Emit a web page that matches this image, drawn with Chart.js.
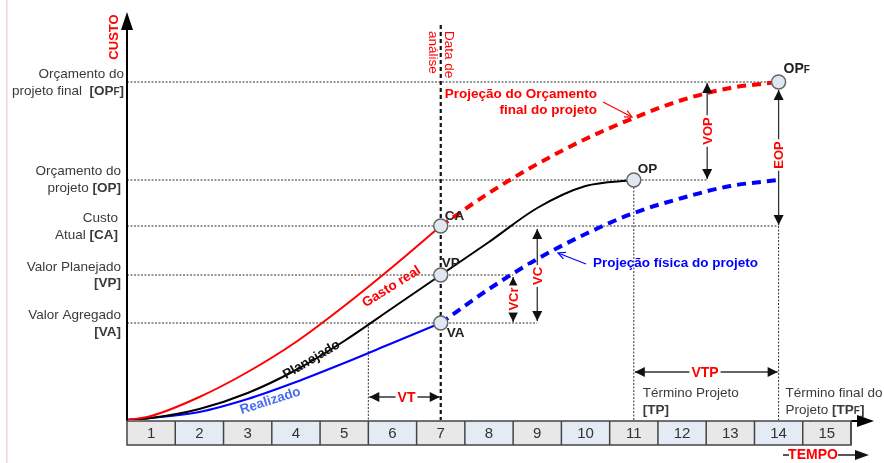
<!DOCTYPE html>
<html><head><meta charset="utf-8">
<script src="https://cdn.jsdelivr.net/npm/chart.js@4.4.1/dist/chart.umd.min.js"></script>
<style>html,body{margin:0;padding:0;background:#fff;}#wrap{width:884px;height:463px;position:relative;overflow:hidden}</style>
</head><body><div id="wrap"><canvas id="c" width="884" height="463"></canvas></div>
<script>
// ---- data (time periods / cost units) ----
const timeTicks = [1,2,3,4,5,6,7,8,9,10,11,12,13,14,15];
const plannedT    = [0.5,1,2,3,4,5,6,7,8,9,10,11];
const plannedCost = [0,2,11,27,50,79,112,145,178,212,234,240];
const actualT     = [0.5,1,2,3,4,5,6,7];
const actualCost  = [0,4,23,48,78,114,153,194];
const earnedT     = [0.5,1,2,3,4,5,6,7];
const earnedValue = [0,2,8,21,38,57,77,97];
const budgetProjT    = [7,8,9,10,11,12,13,14];
const budgetProjCost = [194,227,256,281,302,320,332,338];
const physProjT      = [7,8,9,10,11,12,13,14];
const physProjCost   = [97,131,161,186,207,222,234,240];
const markerNames = ['CA','VP','VA','OP','OPF'];
const markerT     = [7,7,7,11,14];
const markerCost  = [194,145,97,240,338];
const analysisT = 7, trackStartT = 5.5, endT = 11, finalEndT = 14;
const levelOPF = 338, levelOP = 240, levelCA = 194, levelVP = 145, levelVA = 97;

const pts = (xs, ys) => xs.map((v, i) => ({x: v, y: ys[i]}));
const F = '"Liberation Sans", Arial, sans-serif';

function rich(ctx, parts, x, y, align, color) {
  let w = 0;
  parts.forEach(p => { ctx.font = p.f; w += ctx.measureText(p.t).width; });
  let cx = align === 'right' ? x - w : (align === 'center' ? x - w / 2 : x);
  ctx.textAlign = 'left'; ctx.textBaseline = 'middle';
  parts.forEach(p => {
    ctx.font = p.f; ctx.fillStyle = p.c || color;
    ctx.fillText(p.t, cx, y + (p.dy || 0));
    cx += ctx.measureText(p.t).width;
  });
}
function dotted(ctx, x1, y1, x2, y2, dash, w, col) {
  ctx.save(); ctx.strokeStyle = col || '#333'; ctx.lineWidth = w || 1;
  ctx.setLineDash(dash || [2, 1.5]);
  ctx.beginPath(); ctx.moveTo(x1, y1); ctx.lineTo(x2, y2); ctx.stroke(); ctx.restore();
}
function head(ctx, x, y, ang, len, hw) {
  ctx.save(); ctx.translate(x, y); ctx.rotate(ang);
  ctx.beginPath(); ctx.moveTo(0, 0); ctx.lineTo(-len, -hw); ctx.lineTo(-len, hw); ctx.closePath();
  ctx.fill(); ctx.restore();
}
function dblArrow(ctx, x1, y1, x2, y2) {
  ctx.save(); ctx.strokeStyle = '#333'; ctx.fillStyle = '#111'; ctx.lineWidth = 1.3;
  ctx.beginPath(); ctx.moveTo(x1, y1); ctx.lineTo(x2, y2); ctx.stroke();
  const a = Math.atan2(y2 - y1, x2 - x1);
  head(ctx, x2, y2, a, 10, 5); head(ctx, x1, y1, a + Math.PI, 10, 5);
  ctx.restore();
}
function label(ctx, text, x, y, rot, font, color, bg) {
  ctx.save(); ctx.translate(x, y); ctx.rotate(rot); ctx.font = font;
  ctx.textAlign = 'center'; ctx.textBaseline = 'middle';
  if (bg) { const w = ctx.measureText(text).width; ctx.fillStyle = '#fff'; ctx.fillRect(-w / 2 - 2, -8, w + 4, 16); }
  ctx.fillStyle = color; ctx.fillText(text, 0, 1); ctx.restore();
}
function pointer(ctx, x1, y1, x2, y2, col) {
  ctx.save(); ctx.strokeStyle = col; ctx.lineWidth = 1.2;
  ctx.beginPath(); ctx.moveTo(x1, y1); ctx.lineTo(x2, y2); ctx.stroke();
  const a = Math.atan2(y2 - y1, x2 - x1);
  ctx.beginPath();
  ctx.moveTo(x2 - 8 * Math.cos(a - 0.45), y2 - 8 * Math.sin(a - 0.45));
  ctx.lineTo(x2, y2);
  ctx.lineTo(x2 - 8 * Math.cos(a + 0.45), y2 - 8 * Math.sin(a + 0.45));
  ctx.stroke(); ctx.restore();
}

const diagram = {
  id: 'diagram',
  beforeDatasetsDraw(chart) {
    const {ctx, scales: {x, y}} = chart;
    const X = v => x.getPixelForValue(v), Y = v => y.getPixelForValue(v);
    const x0 = X(0.5), y0 = Y(0);
    ctx.save();
    ctx.fillStyle = '#f2d5d9'; ctx.fillRect(6, 0, 1.5, 463);
    dotted(ctx, x0, Y(levelOPF), X(finalEndT), Y(levelOPF));
    dotted(ctx, x0, Y(levelOP), X(12.52), Y(levelOP));
    dotted(ctx, x0, Y(levelCA), X(finalEndT), Y(levelCA));
    dotted(ctx, x0, Y(levelVP), X(8.5), Y(levelVP));
    dotted(ctx, x0, Y(levelVA), X(9), Y(levelVA));
    dotted(ctx, X(trackStartT), Y(levelVA), X(trackStartT), y0);
    dotted(ctx, X(endT), Y(levelOP), X(endT), y0);
    dotted(ctx, X(finalEndT), Y(levelCA), X(finalEndT), y0);
    dotted(ctx, X(analysisT), Y(395), X(analysisT), y0, [4, 3], 2.2, '#111');
    ctx.restore();
  },
  afterDatasetsDraw(chart) {
    const {ctx, scales: {x, y}} = chart;
    const X = v => x.getPixelForValue(v), Y = v => y.getPixelForValue(v);
    const x0 = X(0.5), y0 = Y(0);
    ctx.save();
    ctx.fillStyle = '#000'; ctx.strokeStyle = '#000'; ctx.lineWidth = 2;
    ctx.beginPath(); ctx.moveTo(x0, y0 + 1); ctx.lineTo(x0, 26); ctx.stroke();
    head(ctx, x0, 12, -Math.PI / 2, 18, 6);
    ctx.beginPath(); ctx.moveTo(X(15.5), y0 + 1); ctx.lineTo(860, y0 + 1); ctx.stroke();
    head(ctx, 874, y0 + 1, 0, 17, 6);

    dblArrow(ctx, X(12.52), Y(levelOPF) + 1, X(12.52), Y(levelOP) - 1);
    label(ctx, 'VOP', X(12.52), 131, -Math.PI / 2, 'bold 13px ' + F, '#f00', true);
    dblArrow(ctx, X(finalEndT), Y(levelOPF) + 8, X(finalEndT), Y(levelCA) - 1);
    label(ctx, 'EOP', X(finalEndT), 155, -Math.PI / 2, 'bold 13px ' + F, '#f00', true);
    dblArrow(ctx, X(9), Y(levelCA) + 3, X(9), Y(levelVA) - 2);
    label(ctx, 'VC', X(9), 276, -Math.PI / 2, 'bold 13px ' + F, '#f00', true);
    dblArrow(ctx, X(8.5), Y(levelVP) + 2, X(8.5), Y(levelVA) - 1);
    label(ctx, 'VCr', X(8.5), 299, -Math.PI / 2, 'bold 13px ' + F, '#f00', true);
    dblArrow(ctx, X(trackStartT) + 1, Y(23), X(analysisT) - 1, Y(23));
    label(ctx, 'VT', (X(trackStartT) + X(analysisT)) / 2 + 2, Y(23), 0, 'bold 14px ' + F, '#f00', true);
    dblArrow(ctx, X(endT) + 1, Y(48), X(finalEndT) - 1, Y(48));
    label(ctx, 'VTP', 705, Y(48), 0, 'bold 14px ' + F, '#f00', true);

    const B = 'bold 13.5px ' + F;
    rich(ctx, [{t: 'CA', f: B}], X(7) + 4, Y(levelCA) - 10, 'left', '#222');
    rich(ctx, [{t: 'VP', f: B}], X(7) + 1, Y(levelVP) - 12, 'left', '#222');
    rich(ctx, [{t: 'VA', f: B}], X(7) + 6, Y(levelVA) + 10, 'left', '#222');
    rich(ctx, [{t: 'OP', f: B}], X(endT) + 4, Y(levelOP) - 11, 'left', '#222');
    rich(ctx, [{t: 'OP', f: 'bold 14px ' + F}, {t: 'F', f: 'bold 10px ' + F, dy: 1}], X(finalEndT) + 5, Y(levelOPF) - 13, 'left', '#222');

    const N = '13.5px ' + F, NB = 'bold 13.5px ' + F, SB = 'bold 10px ' + F, G = '#3a3a3a';
    const lx = 121;
    rich(ctx, [{t: 'Orçamento do', f: N}], 124, Y(levelOPF) - 8, 'right', G);
    rich(ctx, [{t: 'projeto final  ', f: N}, {t: '[OP', f: NB}, {t: 'F', f: SB, dy: 1}, {t: ']', f: NB}], 124, Y(levelOPF) + 9, 'right', G);
    rich(ctx, [{t: 'Orçamento do', f: N}], lx, Y(levelOP) - 9, 'right', G);
    rich(ctx, [{t: 'projeto ', f: N}, {t: '[OP]', f: NB}], lx, Y(levelOP) + 8, 'right', G);
    rich(ctx, [{t: 'Custo', f: N}], lx - 3, Y(levelCA) - 8, 'right', G);
    rich(ctx, [{t: 'Atual ', f: N}, {t: '[CA]', f: NB}], lx - 3, Y(levelCA) + 9, 'right', G);
    rich(ctx, [{t: 'Valor Planejado', f: N}], lx, Y(levelVP) - 8, 'right', G);
    rich(ctx, [{t: '[VP]', f: NB}], lx, Y(levelVP) + 8, 'right', G);
    rich(ctx, [{t: 'Valor Agregado', f: N}], lx, Y(levelVA) - 8, 'right', G);
    rich(ctx, [{t: '[VA]', f: NB}], lx, Y(levelVA) + 9, 'right', G);

    rich(ctx, [{t: 'Término Projeto', f: N}], X(endT) + 9, 393, 'left', G);
    rich(ctx, [{t: '[TP]', f: NB}], X(endT) + 9, 410, 'left', G);
    rich(ctx, [{t: 'Término final do', f: N}], X(finalEndT) + 7, 393, 'left', G);
    rich(ctx, [{t: 'Projeto ', f: N}, {t: '[TP', f: NB}, {t: 'F', f: SB, dy: 1}, {t: ']', f: NB}], X(finalEndT) + 7, 410, 'left', G);

    label(ctx, 'CUSTO', 113, 37, -Math.PI / 2, 'bold 13px ' + F, '#f00', false);
    ctx.save(); ctx.font = '13.5px ' + F; ctx.fillStyle = '#f00'; ctx.textBaseline = 'middle'; ctx.textAlign = 'left';
    ctx.translate(449, 31); ctx.rotate(Math.PI / 2); ctx.fillText('Data de', 0, 0);
    ctx.fillText('análise', 0, 16); ctx.restore();
    rich(ctx, [{t: 'TEMPO', f: 'bold 14px ' + F}], 813, 455, 'center', '#f00');
    ctx.strokeStyle = '#222'; ctx.lineWidth = 1.5; ctx.fillStyle = '#111';
    ctx.beginPath(); ctx.moveTo(783, 455); ctx.lineTo(789, 455); ctx.moveTo(838, 455); ctx.lineTo(856, 455); ctx.stroke();
    head(ctx, 869, 455, 0, 14, 5);

    label(ctx, 'Gasto real', 391, 286, -0.56, 'bold 13.5px ' + F, '#f00', false);
    label(ctx, 'Planejado', 311, 359, -0.53, 'bold 13.5px ' + F, '#111', false);
    label(ctx, 'Realizado', 270, 400, -0.31, 'bold 13.5px ' + F, '#4a6cf2', false);

    rich(ctx, [{t: 'Projeção do Orçamento', f: 'bold 13.5px ' + F}], 597, 94, 'right', '#f00');
    rich(ctx, [{t: 'final do projeto', f: 'bold 13.5px ' + F}], 597, 110, 'right', '#f00');
    pointer(ctx, 603, 102, 632, 117, '#f00');
    rich(ctx, [{t: 'Projeção física do projeto', f: 'bold 13.5px ' + F}], 758, 263, 'right', '#0000ff');
    pointer(ctx, 586, 264, 558, 253, '#0000ff');
    ctx.restore();
  },
  afterDraw(chart) {
    const {ctx, scales: {x}} = chart;
    const top = chart.chartArea.bottom + 1, h = 24;
    ctx.save();
    timeTicks.forEach((t, i) => {
      const l = x.getPixelForValue(t - 0.5), r = x.getPixelForValue(t + 0.5);
      ctx.fillStyle = i % 2 ? '#e4ebf5' : '#e8e8e8';
      ctx.fillRect(l, top, r - l, h);
    });
    ctx.strokeStyle = '#444'; ctx.lineWidth = 1.5;
    const L = x.getPixelForValue(0.5), R = x.getPixelForValue(15.5);
    ctx.strokeRect(L, top, R - L, h);
    timeTicks.forEach(t => {
      const px = x.getPixelForValue(t + 0.5);
      ctx.beginPath(); ctx.moveTo(px, top); ctx.lineTo(px, top + h); ctx.stroke();
    });
    ctx.fillStyle = '#333'; ctx.font = '15px ' + F; ctx.textAlign = 'center'; ctx.textBaseline = 'middle';
    timeTicks.forEach(t => ctx.fillText(String(t), x.getPixelForValue(t), top + h / 2 + 1));
    ctx.restore();
  }
};

const line = (data, color, dashed, order) => ({
  data, borderColor: color, borderWidth: dashed ? 4 : 2, borderDash: dashed ? [9, 6] : [],
  pointRadius: 0, fill: false, cubicInterpolationMode: 'monotone', order
});

new Chart(document.getElementById('c'), {
  type: 'line',
  data: {
    datasets: [
      {data: pts(markerT, markerCost), showLine: false, pointRadius: 7, pointHoverRadius: 7,
       pointBackgroundColor: '#dfe7f1', pointBorderColor: '#666', pointBorderWidth: 1.5, order: 0},
      line(pts(actualT, actualCost), '#ff0000', false, 1),
      line(pts(plannedT, plannedCost), '#000000', false, 1),
      line(pts(earnedT, earnedValue), '#0000ff', false, 1),
      line(pts(budgetProjT, budgetProjCost), '#ff0000', true, 2),
      line(pts(physProjT, physProjCost), '#0000ff', true, 2)
    ]
  },
  options: {
    responsive: false, animation: false, events: [],
    layout: {padding: {left: 127, right: 33, top: 10, bottom: 43}},
    scales: {
      x: {type: 'linear', min: 0.5, max: 15.5, display: false},
      y: {type: 'linear', min: 0, max: 410, display: false}
    },
    plugins: {legend: {display: false}, tooltip: {enabled: false}}
  },
  plugins: [diagram]
});
</script></body></html>
